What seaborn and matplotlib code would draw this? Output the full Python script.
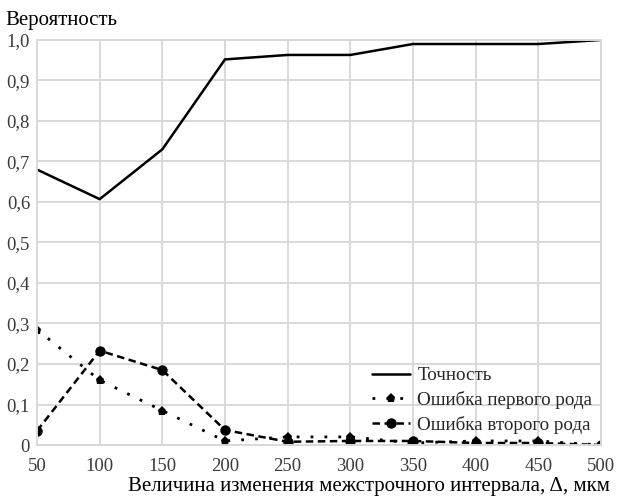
import matplotlib
matplotlib.use("Agg")
import matplotlib.pyplot as plt
import seaborn as sns
import pandas as pd
from matplotlib.ticker import FuncFormatter

x_vals = [50, 100, 150, 200, 250, 300, 350, 400, 450, 500]
accuracy = [0.68, 0.607, 0.73, 0.952, 0.963, 0.963, 0.99, 0.99, 0.99, 1.0]
err_type1 = [0.285, 0.16, 0.085, 0.01, 0.02, 0.02, 0.005, 0.01, 0.01, 0.0]
err_type2 = [0.035, 0.233, 0.185, 0.037, 0.008, 0.01, 0.01, 0.005, 0.005, 0.0]
series_names = ["Точность", "Ошибка первого рода", "Ошибка второго рода"]
y_ticks = [0, 0.1, 0.2, 0.3, 0.4, 0.5, 0.6, 0.7, 0.8, 0.9, 1.0]
x_ticks = [50, 100, 150, 200, 250, 300, 350, 400, 450, 500]

sns.set_theme(style="whitegrid")
plt.rcParams["font.family"] = ["Liberation Serif", "DejaVu Serif"]

fig = plt.figure(figsize=(6.17, 4.97), dpi=100)
ax = fig.add_axes([0.060, 0.1046, 0.914, 0.815])

df = pd.DataFrame({"x": x_vals, "acc": accuracy, "e1": err_type1, "e2": err_type2})

sns.lineplot(data=df, x="x", y="acc", ax=ax, color="black", linewidth=1.8,
             label=series_names[0])
sns.lineplot(data=df, x="x", y="e1", ax=ax, color="black", linewidth=2.0,
             linestyle=(0, (1, 4)), marker="p", markersize=6.5, markeredgewidth=0,
             label=series_names[1])
sns.lineplot(data=df, x="x", y="e2", ax=ax, color="black", linewidth=1.8,
             linestyle=(0, (3, 1.8)), marker="o", markersize=7.5, markeredgewidth=0,
             label=series_names[2])

ax.set_xlim(50, 500)
ax.set_ylim(0, 1.0)
ax.set_xticks(x_ticks)
ax.set_yticks(y_ticks)

def yfmt(v, pos):
    if abs(v) < 1e-9:
        return "0"
    return f"{v:.1f}".replace(".", ",")

ax.yaxis.set_major_formatter(FuncFormatter(yfmt))
ax.tick_params(axis="both", labelsize=13.5, labelcolor="#3a3a3a", length=0)
ax.tick_params(axis="x", pad=9)
ax.tick_params(axis="y", pad=5)
ax.grid(True, color="#d9d9d9", linewidth=1.4)
for s in ax.spines.values():
    s.set_visible(True)
    s.set_color("#d9d9d9")
    s.set_linewidth(1.4)
ax.set_xlabel("")
ax.set_ylabel("")

fig.text(0.008, 0.958, "Вероятность", fontsize=15, ha="left", va="center", color="black")
fig.text(0.988, 0.022, "Величина изменения межстрочного интервала, Δ, мкм", fontsize=15,
         ha="right", va="center", color="black")

leg = ax.legend(loc="lower right", bbox_to_anchor=(1.005, 0.0), frameon=False,
                fontsize=13.7, handlelength=2.0, labelspacing=0.35, borderaxespad=0.2,
                handletextpad=0.4)

fig.savefig("out.png", dpi=100, facecolor="white")
